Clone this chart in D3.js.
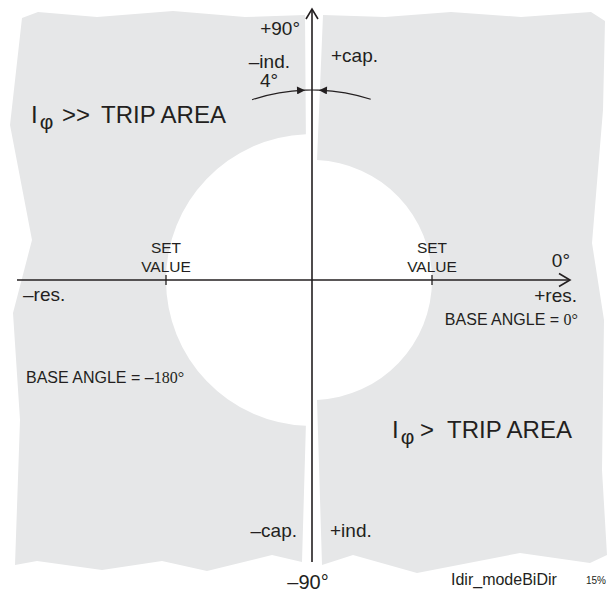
<!DOCTYPE html>
<html>
<head>
<meta charset="utf-8">
<script src="https://cdn.jsdelivr.net/npm/d3@7"></script>
<style>
  html, body { margin: 0; padding: 0; background: #fff; }
  svg text { font-family: "Liberation Sans", Arial, Helvetica, sans-serif; fill: #231f20; }
</style>
</head>
<body>
<svg id="chart" width="607" height="592"></svg>
<script>
// ---- data (diagram units: origin at the axes crossing, y up) ----
const leftOuterEdge = [[-7,265],[-67,263],[-139,269],[-215,263],[-274,268],[-290,262],[-302,155],[-280,40],[-299,-33],[-292,-140],[-297,-285],[-275,-281],[-210,-290],[-150,-281],[-105,-291],[-40,-275],[-10,-282]];
const rightOuterEdge = [[11,265],[73,263],[139,268],[209,263],[279,268],[293,259],[291,170],[280,37],[292,-40],[290,-190],[295,-275],[278,-283],[208,-273],[105,-293],[41,-275],[10,-285]];
const setValueRadii = { left: 146, right: 120 };     // circle radius of each trip area
const gapAngleDeg = 2.4;                              // half-gap around the vertical axis
const angleArcRadius = 190;                           // "4°" indicator arc
const angleArcLeft = [108.4, 92.1];                   // degrees (math convention)
const angleArcRight = [72, 87.9];
const tickPositions = [-146, 120];
const axisX = [-295, 258];
const axisY = [-282, 271];

const cornerLabels = [
  { t: "+90°", x: -12, y: 245, a: "end", s: 19 },
  { t: "\u2013ind.", x: -22, y: 212, a: "end", s: 19 },
  { t: "4°", x: -52, y: 193, a: "start", s: 19 },
  { t: "+cap.", x: 19, y: 218, a: "start", s: 19 },
  { t: "0°", x: 258, y: 13, a: "end", s: 19 },
  { t: "+res.", x: 265, y: -22, a: "end", s: 19 },
  { t: "\u2013res.", x: -289, y: -21, a: "start", s: 19 },
  { t: "\u2013cap.", x: -15, y: -257, a: "end", s: 19 },
  { t: "+ind.", x: 18, y: -257, a: "start", s: 19 },
  { t: "\u201390°", x: -4, y: -309, a: "middle", s: 20 },
  { t: "Idir_modeBiDir", x: 139, y: -305, a: "start", s: 16 },
  { t: "15%", x: 274, y: -304, a: "start", s: 10 }
];
const baseLabels = [
  { t: "BASE ANGLE = ", deg: "0°", x: 266, y: -45, a: "end" },
  { t: "BASE ANGLE = \u2013", deg: "180°", x: -286, y: -103, a: "start" }
];
const setValueLabels = ["SET", "VALUE"];

// ---- scales ----
const W = 607, H = 592;
const x = d3.scaleLinear().domain([-312, 295]).range([0, W]);
const y = d3.scaleLinear().domain([280, -312]).range([0, H]);
const cx = x(0), cy = y(0);
const ink = "#231f20";
const grey = "#e6e7e8";

const svg = d3.select("#chart");

// ---- trip areas ----
function rad(d) { return d * Math.PI / 180; }
function piece(outer, r, side) {
  const p = d3.path();
  const pr = x(r) - x(0);
  const g = rad(gapAngleDeg);
  p.moveTo(x(outer[0][0]), y(outer[0][1]));
  outer.slice(1).forEach(pt => p.lineTo(x(pt[0]), y(pt[1])));
  if (side === "left") {
    const a0 = Math.PI / 2 + g, a1 = 3 * Math.PI / 2 - g;
    p.lineTo(cx + pr * Math.cos(a0), cy + pr * Math.sin(a0));
    p.arc(cx, cy, pr, a0, a1, false);
  } else {
    const a0 = Math.PI / 2 - g, a1 = -Math.PI / 2 + g;
    p.lineTo(cx + pr * Math.cos(a0), cy + pr * Math.sin(a0));
    p.arc(cx, cy, pr, a0, a1, true);
  }
  p.closePath();
  return p.toString();
}
svg.append("path").attr("d", piece(leftOuterEdge, setValueRadii.left, "left")).attr("fill", grey);
svg.append("path").attr("d", piece(rightOuterEdge, setValueRadii.right, "right")).attr("fill", grey);

// ---- axes ----
svg.append("line").attr("x1", x(axisX[0])).attr("x2", x(axisX[1])).attr("y1", cy).attr("y2", cy)
  .attr("stroke", ink).attr("stroke-width", 1.6);
svg.append("line").attr("x1", cx).attr("x2", cx).attr("y1", y(axisY[0])).attr("y2", y(axisY[1]))
  .attr("stroke", ink).attr("stroke-width", 1.6);
svg.append("path").attr("d", `M${x(axisX[1]) - 11},${cy - 6.5}L${x(axisX[1])},${cy}L${x(axisX[1]) - 11},${cy + 6.5}`)
  .attr("fill", "none").attr("stroke", ink).attr("stroke-width", 1.6);
svg.append("path").attr("d", `M${cx - 6},${y(axisY[1]) + 10}L${cx},${y(axisY[1])}L${cx + 6},${y(axisY[1]) + 10}`)
  .attr("fill", "none").attr("stroke", ink).attr("stroke-width", 1.6);

// ticks
tickPositions.forEach(t => {
  svg.append("line").attr("x1", x(t)).attr("x2", x(t)).attr("y1", cy - 5).attr("y2", cy + 5)
    .attr("stroke", ink).attr("stroke-width", 1.3);
  setValueLabels.forEach((s, i) => {
    svg.append("text").attr("x", x(t)).attr("y", cy - 27 + i * 18.5).attr("text-anchor", "middle")
      .attr("font-size", 15.5).text(s);
  });
});

// ---- 4° indicator ----
svg.append("defs").append("marker").attr("id", "tri").attr("viewBox", "0 0 10 10")
  .attr("refX", 10).attr("refY", 5).attr("markerWidth", 10).attr("markerHeight", 8)
  .attr("markerUnits", "userSpaceOnUse").attr("orient", "auto")
  .append("path").attr("d", "M0,0L10,5L0,10Z").attr("fill", ink);
function arcPath(r, d0, d1) {
  const pr = x(r) - x(0);
  const a0 = -rad(d0), a1 = -rad(d1);
  const p = d3.path();
  p.moveTo(cx + pr * Math.cos(a0), cy + pr * Math.sin(a0));
  p.arc(cx, cy, pr, a0, a1, a1 < a0);
  return p.toString();
}
svg.append("path").attr("d", arcPath(angleArcRadius, angleArcLeft[0], angleArcLeft[1]))
  .attr("fill", "none").attr("stroke", ink).attr("stroke-width", 1.1).attr("marker-end", "url(#tri)");
svg.append("path").attr("d", arcPath(angleArcRadius, angleArcRight[0], angleArcRight[1]))
  .attr("fill", "none").attr("stroke", ink).attr("stroke-width", 1.1).attr("marker-end", "url(#tri)");
svg.append("path").attr("d", arcPath(angleArcRadius, angleArcLeft[1], angleArcRight[1]))
  .attr("fill", "none").attr("stroke", ink).attr("stroke-width", 1.1);

// ---- labels ----
cornerLabels.forEach(l => {
  svg.append("text").attr("x", x(l.x)).attr("y", y(l.y)).attr("text-anchor", l.a)
    .attr("font-size", l.s).text(l.t);
});
baseLabels.forEach(l => {
  const t = svg.append("text").attr("x", x(l.x)).attr("y", y(l.y)).attr("text-anchor", l.a)
    .attr("font-size", 16);
  t.append("tspan").text(l.t);
  t.append("tspan").attr("font-family", "'Liberation Serif', 'Times New Roman', serif").attr("font-size", 16).text(l.deg);
});

// trip area titles
function tripTitle(x0, base, arrows, xArrows, xText) {
  const t = svg.append("text").attr("y", y(base)).attr("font-size", 24);
  t.append("tspan").attr("x", x(x0)).text("I");
  t.append("tspan").attr("dx", 2).attr("dy", 6).attr("font-size", 21).text("φ");
  t.append("tspan").attr("x", x(xArrows)).attr("dy", -6).text(arrows);
  t.append("tspan").attr("x", x(xText)).text("TRIP AREA");
}
tripTitle(-281, 157, ">>", -250, -211);
tripTitle(80, -158, ">", 108, 135);
</script>
</body>
</html>
